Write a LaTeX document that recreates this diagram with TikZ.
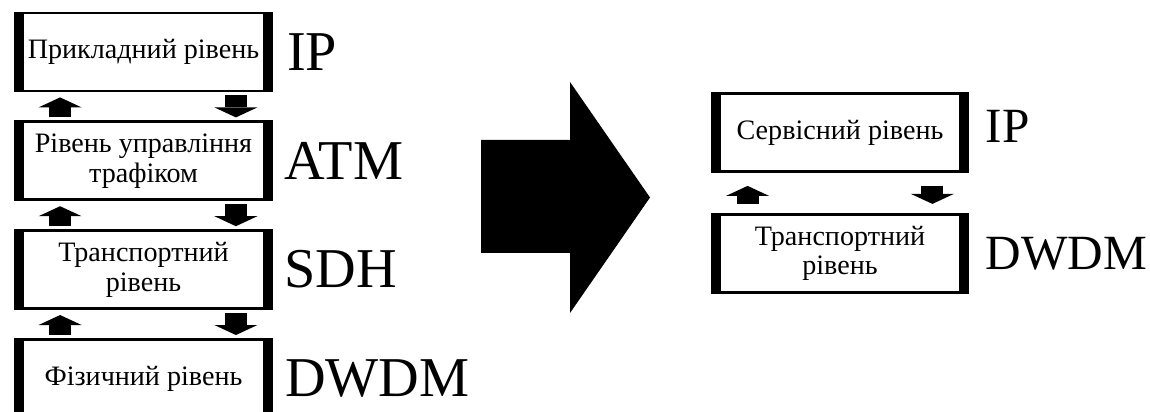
\documentclass[tikz,border=0pt]{standalone}
\usepackage{fontspec}
\setmainfont{Liberation Serif}
\usetikzlibrary{arrows.meta, positioning}

\begin{document}
\begin{tikzpicture}[
    font=\fontsize{16}{17}\selectfont,
    layer/.style={rectangle, draw=black, line width=1.6pt, fill=white, minimum width=5.12cm, minimum height=1.56cm, align=center, inner sep=2pt},
    tech/.style={font=\fontsize{32}{34}\selectfont, inner sep=0pt},
    techsmall/.style={font=\fontsize{28}{30}\selectfont, inner sep=0pt},
    flow/.style={line width=0.44cm, -{Triangle[width=0.86cm, length=0.2cm, line width=0pt]}}
]
    \useasboundingbox (0,0) rectangle (23,-8.24);

    % Old stack
    \node[layer] (app) at (2.87,-1.04) {Прикладний рівень};
    \node[layer, below=0.56cm of app] (traffic) {Рівень управління\\трафіком};
    \node[layer, below=0.56cm of traffic] (transport) {Транспортний\\рівень};
    \node[layer, below=0.56cm of transport] (phys) {Фізичний рівень};

    \node[tech, right=0.28cm of app] (ip) {IP};
    \node[tech, right=0.22cm of traffic] (atm) {ATM};
    \node[tech, right=0.22cm of transport] (sdh) {SDH};
    \node[tech, right=0.24cm of phys] (dwdm) {DWDM};

    % Interaction between layers
    \draw[flow, shorten >=0.1cm, shorten <=0.06cm] ([xshift=0.92cm]traffic.north west) -- ([xshift=0.92cm]app.south west);
    \draw[flow, shorten >=0.06cm, shorten <=0.06cm] ([xshift=-0.74cm]app.south east) -- ([xshift=-0.74cm]traffic.north east);
    \draw[flow, shorten >=0.1cm, shorten <=0.06cm] ([xshift=0.92cm]transport.north west) -- ([xshift=0.92cm]traffic.south west);
    \draw[flow, shorten >=0.06cm, shorten <=0.06cm] ([xshift=-0.74cm]traffic.south east) -- ([xshift=-0.74cm]transport.north east);
    \draw[flow, shorten >=0.1cm, shorten <=0.06cm] ([xshift=0.92cm]phys.north west) -- ([xshift=0.92cm]transport.south west);
    \draw[flow, shorten >=0.06cm, shorten <=0.06cm] ([xshift=-0.74cm]transport.south east) -- ([xshift=-0.74cm]phys.north east);

    % Transition
    \fill (9.62,-2.8) -- (11.4,-2.8) -- (11.4,-1.64) -- (13.0,-3.95) -- (11.4,-6.26) -- (11.4,-5.06) -- (9.62,-5.06) -- cycle;

    % New stack
    \node[layer] (service) at (16.8,-2.65) {Сервісний рівень};
    \node[layer, below=0.8cm of service] (optical) {Транспортний\\рівень};

    \node[techsmall, right=0.32cm of service, yshift=0.12cm] (ip2) {IP};
    \node[techsmall, right=0.32cm of optical] (dwdm2) {DWDM};

    \draw[flow, shorten >=0.26cm, shorten <=0.18cm] ([xshift=0.74cm]optical.north west) -- ([xshift=0.74cm]service.south west);
    \draw[flow, shorten >=0.18cm, shorten <=0.26cm] ([xshift=-0.74cm]service.south east) -- ([xshift=-0.74cm]optical.north east);

    % Thick side bars
    \foreach \layername in {app, traffic, transport, phys, service, optical} {
        \fill (\layername.south west) rectangle ([xshift=0.2cm]\layername.north west);
        \fill ([xshift=-0.2cm]\layername.south east) rectangle (\layername.north east);
    }
\end{tikzpicture}
\end{document}
